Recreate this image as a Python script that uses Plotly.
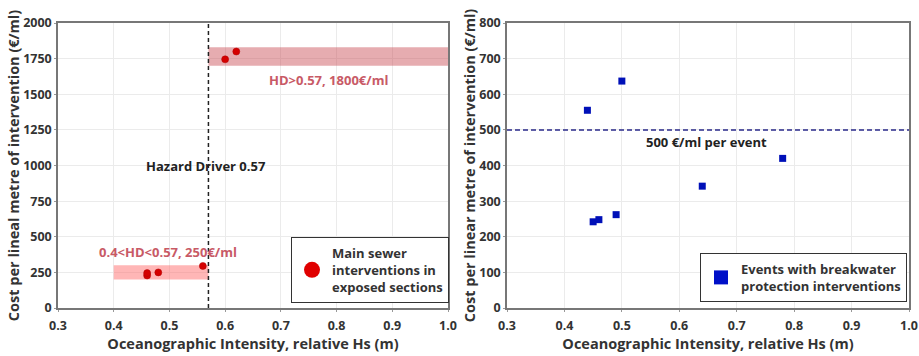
import plotly.graph_objects as go

# Left chart: main sewer interventions
sewer_hs = [0.62, 0.60, 0.46, 0.46, 0.48, 0.56]
sewer_cost = [1800, 1745, 228, 245, 250, 295]

# Right chart: breakwater protection events
bw_hs = [0.44, 0.50, 0.78, 0.64, 0.45, 0.46, 0.49]
bw_cost = [555, 637, 420, 342, 242, 248, 262]

hazard_driver = 0.57
band_high = [0.57, 1.0, 1700, 1830]
band_low = [0.40, 0.57, 200, 300]
event_cost = 500

x_ticks = [0.3, 0.4, 0.5, 0.6, 0.7, 0.8, 0.9, 1.0]
x_ticklabels = ["0.3", "0.4", "0.5", "0.6", "0.7", "0.8", "0.9", "1.0"]
left_yticks = [0, 250, 500, 750, 1000, 1250, 1500, 1750, 2000]
right_yticks = [0, 100, 200, 300, 400, 500, 600, 700, 800]

FONT = "Open Sans"
fig = go.Figure()

# bands (as filled traces)
fig.add_trace(go.Scatter(
    x=[band_high[0], band_high[1], band_high[1], band_high[0], band_high[0]],
    y=[band_high[2], band_high[2], band_high[3], band_high[3], band_high[2]],
    fill="toself", fillcolor="rgba(200,70,80,0.45)", line=dict(width=0),
    mode="lines", hoverinfo="skip", showlegend=False, xaxis="x", yaxis="y"))
fig.add_trace(go.Scatter(
    x=[band_low[0], band_low[1], band_low[1], band_low[0], band_low[0]],
    y=[band_low[2], band_low[2], band_low[3], band_low[3], band_low[2]],
    fill="toself", fillcolor="rgba(255,110,110,0.5)", line=dict(width=0),
    mode="lines", hoverinfo="skip", showlegend=False, xaxis="x", yaxis="y"))

# hazard driver line
fig.add_trace(go.Scatter(
    x=[hazard_driver, hazard_driver], y=[0, 2000], mode="lines",
    line=dict(color="#222222", width=1.5, dash="4px,3px"),
    showlegend=False, hoverinfo="skip", xaxis="x", yaxis="y"))

fig.add_trace(go.Scatter(
    x=sewer_hs, y=sewer_cost, mode="markers",
    marker=dict(color="#d40000", size=7, line=dict(color="#b00000", width=0.5)),
    showlegend=False, xaxis="x", yaxis="y"))
fig.add_trace(go.Scatter(
    x=[None], y=[None], mode="markers",
    marker=dict(color="#e00000", size=16),
    name="Main sewer<br>interventions in<br>exposed sections",
    legend="legend", xaxis="x", yaxis="y"))

# right chart
fig.add_trace(go.Scatter(
    x=[0.3, 1.0], y=[event_cost, event_cost], mode="lines",
    line=dict(color="#2a2a8a", width=1.5, dash="5px,3px"),
    showlegend=False, hoverinfo="skip", xaxis="x2", yaxis="y2"))
fig.add_trace(go.Scatter(
    x=bw_hs, y=bw_cost, mode="markers",
    marker=dict(color="#0010b8", size=7, symbol="square"),
    showlegend=False, xaxis="x2", yaxis="y2"))
fig.add_trace(go.Scatter(
    x=[None], y=[None], mode="markers",
    marker=dict(color="#0010c8", size=14, symbol="square"),
    name="Events with breakwater<br>protection interventions",
    legend="legend2", xaxis="x2", yaxis="y2"))

tickfont = dict(family=FONT, size=12.5, color="#333333", weight="bold")
titlefont = dict(family=FONT, size=14.5, color="#333333", weight="bold")

axis_common = dict(
    showgrid=True, gridcolor="#ebebeb", gridwidth=1,
    showline=True, linecolor="#777777", linewidth=1.5, mirror=True,
    tickfont=tickfont, automargin=False, zeroline=False,
    ticks="outside", ticklen=2, tickcolor="#999999", tickwidth=1,
    ticklabeloverflow="allow")

fig.update_layout(
    width=919, height=356,
    margin=dict(l=0, r=0, t=0, b=0),
    paper_bgcolor="white", plot_bgcolor="white",
    font=dict(family=FONT, color="#333333"),
    xaxis=dict(domain=[58/919, 448/919], range=[0.3, 1.0],
               tickvals=x_ticks, ticktext=x_ticklabels, ticklabelstandoff=3,
               title=dict(text="Oceanographic Intensity, relative Hs (m)", font=titlefont, standoff=2),
               anchor="y", **axis_common),
    yaxis=dict(domain=[1-308/356, 1-23/356], range=[0, 2000],
               tickvals=left_yticks, ticklabelstandoff=0,
               title=dict(text="Cost per lineal metre of intervention (€/ml)", font=titlefont, standoff=0),
               anchor="x", **axis_common),
    xaxis2=dict(domain=[507/919, 909/919], range=[0.3, 1.0],
                tickvals=x_ticks, ticktext=x_ticklabels, ticklabelstandoff=3,
                title=dict(text="Oceanographic Intensity, relative Hs (m)", font=titlefont, standoff=2),
                anchor="y2", **axis_common),
    yaxis2=dict(domain=[1-308/356, 1-23/356], range=[0, 800],
                tickvals=right_yticks, ticklabelstandoff=0,
                title=dict(text="Cost per linear metre of intervention (€/ml)", font=titlefont, standoff=0),
                anchor="x2", **axis_common),
    legend=dict(x=291/919, xanchor="left", y=1-303/356, yanchor="bottom",
                bordercolor="#333333", borderwidth=1, bgcolor="white",
                font=dict(family=FONT, size=13, color="#333333", weight="bold")),
    legend2=dict(x=700/919, xanchor="left", y=1-302/356, yanchor="bottom",
                 bordercolor="#333333", borderwidth=1, bgcolor="white",
                 font=dict(family=FONT, size=13, color="#333333", weight="bold")),
    annotations=[
        dict(x=0.785, y=1600, xref="x", yref="y", text="HD>0.57, 1800€/ml", showarrow=False,
             font=dict(family=FONT, size=13, color="#c85a66", weight="bold")),
        dict(x=0.497, y=390, xref="x", yref="y", text="0.4<HD<0.57, 250€/ml", showarrow=False,
             font=dict(family=FONT, size=13, color="#c85a66", weight="bold")),
        dict(x=0.565, y=1000, xref="x", yref="y", text="Hazard Driver 0.57", showarrow=False,
             font=dict(family=FONT, size=13, color="#222222", weight="bold")),
        dict(x=0.648, y=465, xref="x2", yref="y2", text="500 €/ml per event", showarrow=False,
             font=dict(family=FONT, size=13, color="#222222", weight="bold")),
    ],
)

fig.write_html("out.html", config={"displayModeBar": False},
               post_script="document.body.style.margin='0';document.body.style.overflow='hidden';")
